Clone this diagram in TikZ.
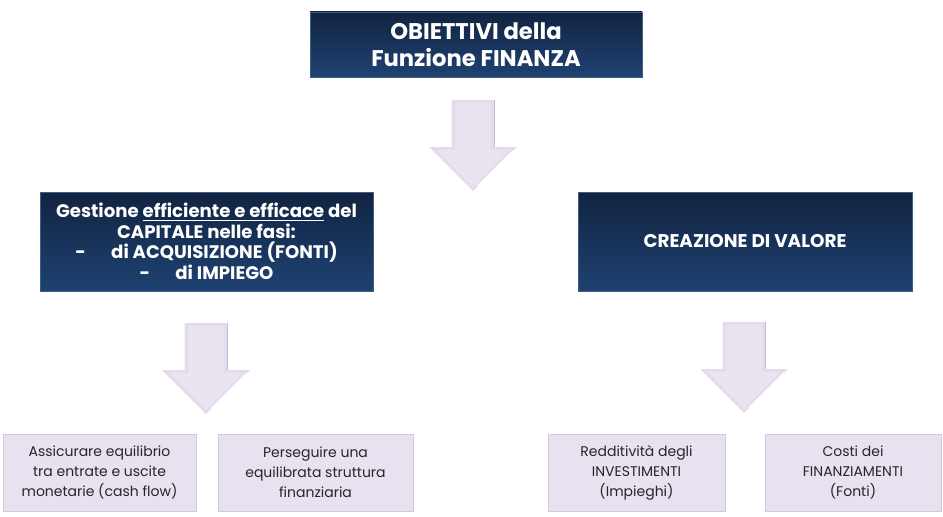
\documentclass[tikz,border=0pt]{standalone}
\usepackage{fontspec}
\setmainfont{Poppins}
\definecolor{navytop}{HTML}{112441}
\definecolor{navybot}{HTML}{1F4272}
\definecolor{navyedge}{HTML}{3E5E88}
\definecolor{lilac}{HTML}{E8E1EF}
\definecolor{lilacedge}{HTML}{D3C8DE}
\definecolor{arrowfill}{HTML}{E4DCEC}
\definecolor{arrowin}{HTML}{EAE4F1}
\definecolor{txt}{HTML}{262626}
\tikzset{
  darkbox/.style={rectangle, draw=navyedge, line width=0.6pt, top color=navytop, bottom color=navybot,
    text=white, font=\bfseries, align=center, inner sep=2pt},
  lightbox/.style={rectangle, draw=lilacedge, line width=0.6pt, fill=lilac, text=txt,
    font=\fontsize{10.5}{15}\selectfont, align=center, inner sep=2pt},
  blockdown/.pic={
    \fill[arrowfill] (-21.5,-91) -- (21.5,-91) -- (21.5,-44) -- (44,-44) -- (0,0) -- (-44,-44) -- (-21.5,-44) -- cycle;
    \fill[arrowin] (-17.5,-88) -- (17.5,-88) -- (17.5,-41) -- (36,-41) -- (0,-4) -- (-36,-41) -- (-17.5,-41) -- cycle;
    \draw[white, line width=1.2pt] (5,-5) -- (40,-40);
    \draw[arrowfill!85!black, line width=0.4pt] (21.5,-91) -- (21.5,-44);
  }
}
\begin{document}
\begin{tikzpicture}[x=0.75pt,y=-0.75pt]
\useasboundingbox (0,0) rectangle (943,517);
\node[darkbox, minimum width=249pt, minimum height=48.75pt, font=\bfseries\fontsize{17}{20.5}\selectfont] (top) at (476,44.5) {OBIETTIVI della\\Funzione FINANZA};
\node[darkbox, minimum width=249.75pt, minimum height=74.25pt, font=\bfseries\fontsize{13.6}{15.4}\selectfont] (left) at (206.5,241.5)
  {Gestione \underline{efficiente e efficace} del\\CAPITALE nelle fasi:\\-\hspace{1.4em}di ACQUISIZIONE (FONTI)\\-\hspace{1.4em}di IMPIEGO};
\node[darkbox, minimum width=250.5pt, minimum height=74.25pt, font=\bfseries\fontsize{13.8}{15.4}\selectfont] (right) at (745,241.5) {CREAZIONE DI VALORE};
\node[lightbox, minimum width=144.75pt, minimum height=57.75pt] (b1) at (99.5,472.5) {Assicurare equilibrio\\tra entrate e uscite\\monetarie (cash flow)};
\node[lightbox, minimum width=146.25pt, minimum height=57.75pt] (b2) at (315.5,472.5) {Perseguire una\\equilibrata struttura\\finanziaria};
\node[lightbox, minimum width=132.75pt, minimum height=57.75pt] (b3) at (636.5,472.5) {Redditività degli\\INVESTIMENTI\\(Impieghi)};
\node[lightbox, minimum width=132pt, minimum height=57.75pt] (b4) at (853,472.5) {Costi dei\\FINANZIAMENTI\\(Fonti)};
\coordinate (tip1) at (473,191);
\coordinate (tip2) at (206,414);
\coordinate (tip3) at (744,413);
\pic at (tip1) {blockdown};
\pic at (tip2) {blockdown};
\pic at (tip3) {blockdown};
\end{tikzpicture}
\end{document}
